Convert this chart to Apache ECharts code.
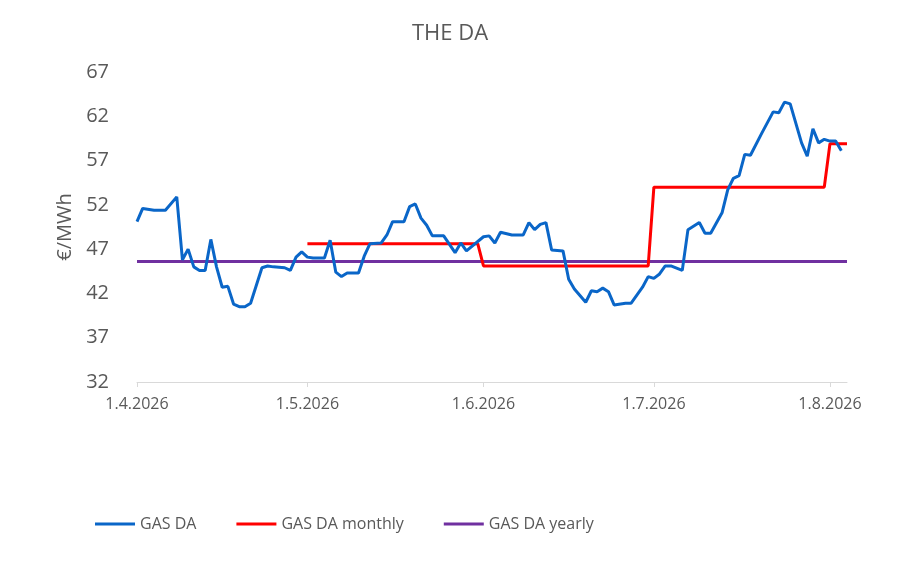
<!DOCTYPE html>
<html>
<head>
<meta charset="utf-8">
<script src="https://cdn.jsdelivr.net/npm/echarts@6/dist/echarts.min.js"></script>
<style>html,body{margin:0;padding:0;background:#fff}#main{width:900px;height:573px}</style>
</head>
<body>
<div id="main"></div>
<script>
// day index counted from 1.4.2026
var blueDays = [0,1,3,5,7,8,9,10,11,12,13,14,15,16,17,18,19,20,21,22,23,24,26,27,28,29,30,31,33,34,35,36,37,39,40,41,43,44,45,47,48,49,50,51,52,54,56,57,58,
  61,62,63,64,66,68,69,70,71,72,73,75,76,77,79,80,81,82,83,84,86,87,89,90,91,92,93,94,96,97,99,100,101,103,104,105,106,107,108,110,112,113,114,115,117,118,119,120,121,122,123,124,125];
var blueValues = [50.1,51.6,51.4,51.4,52.9,45.8,47.0,45.0,44.6,44.6,48.1,45.0,42.7,42.8,40.8,40.5,40.5,40.9,42.9,44.9,45.1,45.0,44.9,44.6,46.1,46.7,46.1,46.0,46.0,48.0,44.4,43.9,44.3,44.3,46.2,47.6,47.7,48.6,50.1,50.1,51.8,52.1,50.5,49.7,48.5,48.5,46.6,47.7,46.8,
  48.4,48.5,47.7,48.9,48.6,48.6,50.0,49.2,49.8,50.0,46.9,46.8,43.6,42.5,41.0,42.3,42.2,42.6,42.2,40.7,40.9,40.9,42.7,43.9,43.7,44.2,45.1,45.1,44.6,49.2,50.0,48.8,48.8,51.1,53.7,55.0,55.3,57.7,57.6,60.1,62.5,62.4,63.6,63.4,59.0,57.5,60.6,59.0,59.4,59.2,59.2,58.1];
var monthlyDays = [30,60,61,90,91,121,122,125];
var monthlyValues = [47.6,47.6,45.1,45.1,54.0,54.0,58.9,58.9];
var yearlyDays = [0,125];
var yearlyValues = [45.6,45.6];
var nDays = 126;

var categories = [];
for (var i = 0; i < nDays; i++) {
  var d = new Date(Date.UTC(2026, 3, 1) + i * 86400000);
  categories.push(d.getUTCDate() + '.' + (d.getUTCMonth() + 1) + '.' + d.getUTCFullYear());
}
function spread(days, vals) {
  var arr = [];
  for (var i = 0; i < nDays; i++) arr.push(null);
  days.forEach(function (d, k) { arr[d] = vals[k]; });
  return arr;
}
function isMonthStart(idx) { return categories[idx].indexOf('1.') === 0; }

var myChart = echarts.init(document.getElementById('main'));
myChart.setOption({
  title: {
    text: 'THE DA', left: 'center', top: 18,
    textStyle: { color: '#595959', fontSize: 22, fontWeight: 'normal', fontFamily: 'Open Sans' }
  },
  legend: {
    bottom: 36, left: 90, itemGap: 40, itemWidth: 40, icon: 'path://M0,0H40V3H0Z',
    textStyle: { color: '#595959', fontSize: 16, fontFamily: 'Open Sans' },
    data: ['GAS DA', 'GAS DA monthly', 'GAS DA yearly']
  },
  grid: { left: 137, right: 53, top: 72, bottom: 191 },
  xAxis: {
    type: 'category', boundaryGap: false, data: categories,
    axisLine: { lineStyle: { color: '#d9d9d9' } },
    axisTick: { interval: function (i) { return isMonthStart(i); }, lineStyle: { color: '#d9d9d9' } },
    axisLabel: { interval: function (i) { return isMonthStart(i); }, color: '#595959', fontSize: 16, margin: 14, fontFamily: 'Open Sans' }
  },
  yAxis: {
    type: 'value', min: 32, max: 67, interval: 5,
    name: '€/MWh', nameLocation: 'middle', nameGap: 60,
    nameTextStyle: { color: '#595959', fontSize: 20, fontFamily: 'Open Sans' },
    splitLine: { show: false }, axisLine: { show: false }, axisTick: { show: false },
    axisLabel: { color: '#595959', fontSize: 20, margin: 28, fontFamily: 'Open Sans' }
  },
  series: [
    { name: 'GAS DA', type: 'line', data: spread(blueDays, blueValues), connectNulls: true, showSymbol: false, itemStyle: { color: '#0a66c8' }, lineStyle: { width: 3, color: '#0a66c8' }, z: 3 },
    { name: 'GAS DA monthly', type: 'line', data: spread(monthlyDays, monthlyValues), connectNulls: true, showSymbol: false, itemStyle: { color: '#ff0000' }, lineStyle: { width: 3, color: '#ff0000' }, z: 2 },
    { name: 'GAS DA yearly', type: 'line', data: spread(yearlyDays, yearlyValues), connectNulls: true, showSymbol: false, itemStyle: { color: '#7030a0' }, lineStyle: { width: 3, color: '#7030a0' }, z: 1 }
  ]
});
</script>
</body>
</html>
